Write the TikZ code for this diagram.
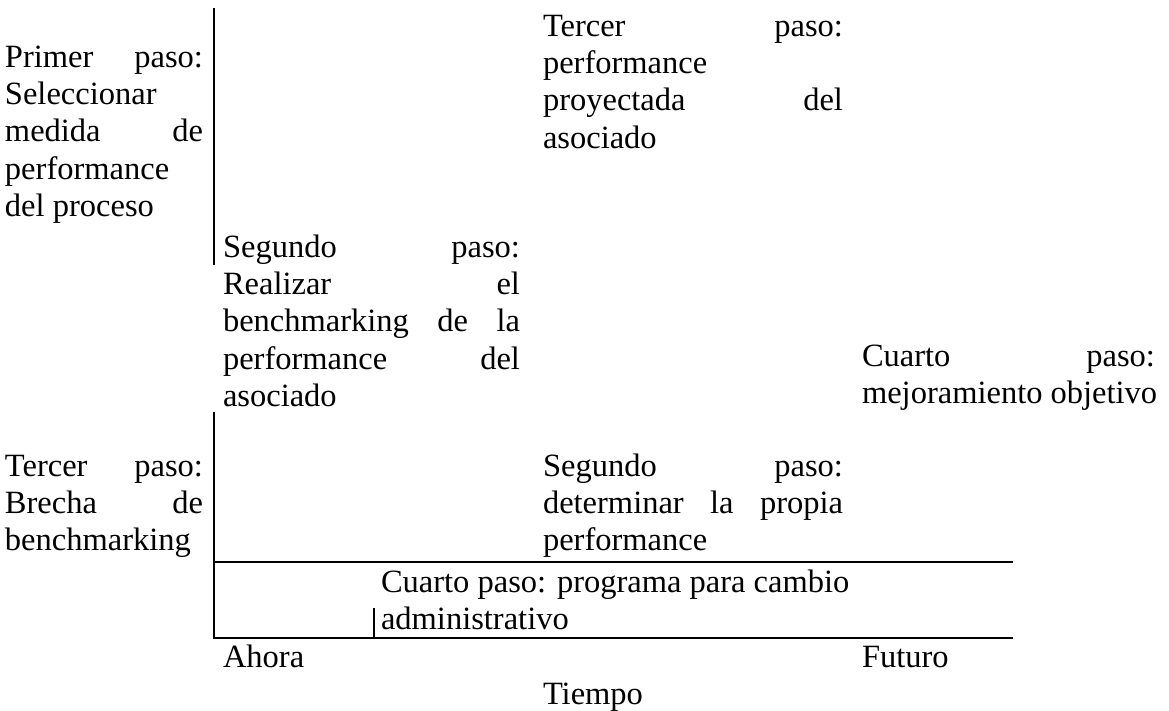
\documentclass[tikz,border=0pt]{standalone}
\usepackage{fontspec}
\setmainfont{Liberation Serif}
\newcommand{\jline}[2]{\makebox[#1pt][s]{#2}}
\begin{document}
\begin{tikzpicture}[x=1pt,y=-1pt,
  every node/.style={inner sep=0pt,outer sep=0pt},
  txt/.style={anchor=base west, align=left, font=\fontsize{32.5}{37.4}\selectfont},
  frame/.style={line width=1.8pt},
  thinframe/.style={line width=1.2pt}]
\useasboundingbox (0,0) rectangle (1169,710);

% text blocks (placed at the baseline of their last line)
\node[txt] (primer) at (5,216.6) {\jline{198}{Primer paso:}\\ Seleccionar\\ \jline{198}{medida de}\\ performance\\ del proceso};
\node[txt] (tercerA) at (543,148.2) {\jline{300}{Tercer paso:}\\ performance\\ \jline{300}{proyectada del}\\ asociado};
\node[txt] (segundoA) at (223,406.6) {\jline{297}{Segundo paso:}\\ \jline{297}{Realizar el}\\ \jline{297}{benchmarking de la}\\ \jline{297}{performance del}\\ asociado};
\node[txt] (cuartoA) at (862,403.4) {\jline{293}{Cuarto paso:}\\ mejoramiento objetivo};
\node[txt] (tercerB) at (5,550.8) {\jline{198}{Tercer paso:}\\ \jline{198}{Brecha de}\\ benchmarking};
\node[txt] (segundoB) at (543,550.8) {\jline{300}{Segundo paso:}\\ \jline{300}{determinar la propia}\\ performance};
\node[txt] (cuartoB) at (381,629.4) {Cuarto paso: programa para cambio\\ administrativo};
\node[txt] (ahora) at (223,667) {Ahora};
\node[txt] (futuro) at (862,667) {Futuro};
\node[txt] (tiempo) at (543,704) {Tiempo};

% frame coordinates
\coordinate (v1t) at (214,8);
\coordinate (v1b) at (214,265);
\coordinate (v2t) at (214,412);
\coordinate (h1l) at (214,562);
\coordinate (h1r) at (1013,562);
\coordinate (h2r) at (1013,638);
\coordinate (v3t) at (374,608);
\coordinate (v3b) at (374,638);

\draw[frame] (v1t) -- (v1b);
\draw[frame] (v2t) |- (h2r);
\draw[frame] (h1l) -- (h1r);
\draw[thinframe] (v3t) -- (v3b);
\end{tikzpicture}
\end{document}
